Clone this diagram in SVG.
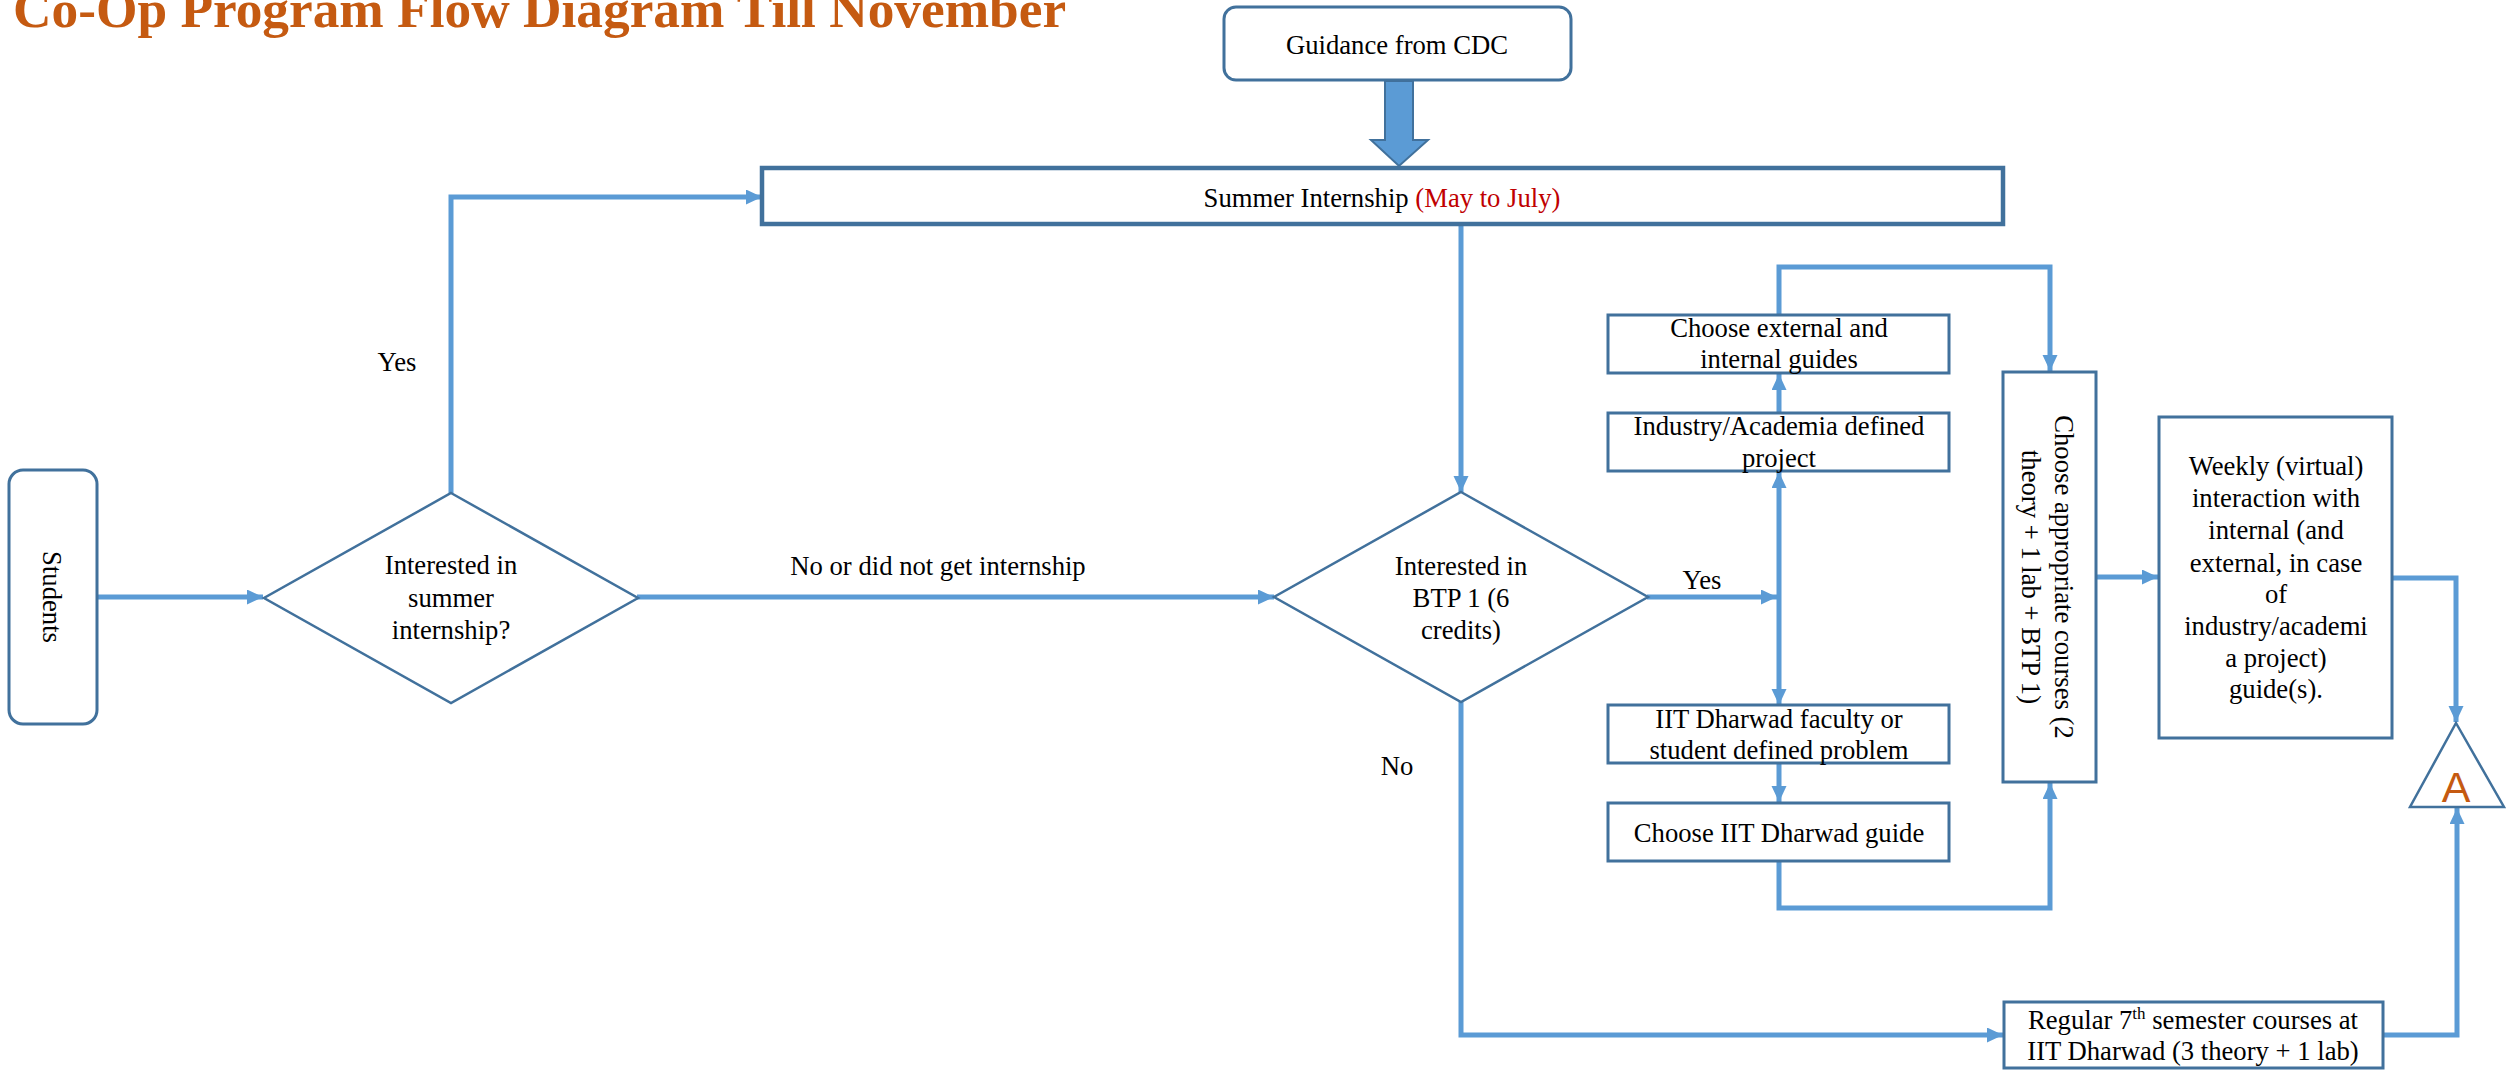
<svg xmlns="http://www.w3.org/2000/svg" width="2509" height="1088" viewBox="0 0 2509 1088">
<style>
.t{font-family:"Liberation Serif","Times New Roman",serif;font-size:26.67px;fill:#000;text-anchor:middle}
.box{fill:#fff;stroke:#41719C;stroke-width:3}
.dia{fill:#fff;stroke:#41719C;stroke-width:2.5}
.c{fill:none;stroke:#5B9BD5;stroke-width:5}
</style>
<defs>
<marker id="ah" markerUnits="userSpaceOnUse" markerWidth="17" markerHeight="16" refX="16" refY="7.5" orient="auto-start-reverse">
<path d="M0,0 L16,7.5 L0,15 z" fill="#5B9BD5"/>
</marker>
</defs>
<rect width="2509" height="1088" fill="#fff"/>
<text x="13" y="27" style="font-family:'Liberation Serif','Times New Roman',serif;font-size:53.33px;font-weight:bold;fill:#C55A11">Co-Op Program Flow Diagram Till November</text>

<g id="connectors">
<polyline class="c" points="97,597 263,597" marker-end="url(#ah)"/>
<polyline class="c" points="451,493 451,197 762,197" marker-end="url(#ah)"/>
<polyline class="c" points="637,597 1274,597" marker-end="url(#ah)"/>
<polyline class="c" points="1461,225 1461,492" marker-end="url(#ah)"/>
<polyline class="c" points="1647,597 1777,597" marker-end="url(#ah)"/>
<polyline class="c" points="1779,472 1779,705" marker-start="url(#ah)" marker-end="url(#ah)"/>
<polyline class="c" points="1779,413 1779,374" marker-end="url(#ah)"/>
<polyline class="c" points="1779,315 1779,267 2050,267 2050,371" marker-end="url(#ah)"/>
<polyline class="c" points="1779,763 1779,802" marker-end="url(#ah)"/>
<polyline class="c" points="1779,861 1779,908 2050,908 2050,783" marker-end="url(#ah)"/>
<polyline class="c" points="2096,577 2158,577" marker-end="url(#ah)"/>
<polyline class="c" points="2392,578 2456,578 2456,722" marker-end="url(#ah)"/>
<polyline class="c" points="1461,702 1461,1035 2003,1035" marker-end="url(#ah)"/>
<polyline class="c" points="2383,1035 2457,1035 2457,808" marker-end="url(#ah)"/>
</g>

<g id="guidance">
<path d="M1385,81 L1385,140 L1371,140 L1399,166 L1428,140 L1413,140 L1413,81 z" fill="#5B9BD5" stroke="#41719C" stroke-width="2"/>
<rect class="box" x="1224" y="7" width="347" height="73" rx="12"/>
<text class="t" x="1397" y="54">Guidance from CDC</text>
</g>

<g id="summer">
<rect x="762" y="168" width="1241" height="56" fill="#fff" stroke="#41719C" stroke-width="4.5"/>
<text class="t" x="1382" y="207">Summer Internship <tspan fill="#C00000">(May to July)</tspan></text>
</g>

<g id="students">
<rect class="box" x="9" y="470" width="88" height="254" rx="14"/>
<text class="t" transform="translate(52,597) rotate(90)" x="0" y="9">Students</text>
</g>

<g id="q1">
<polygon class="dia" points="451,493 638,598 451,703 264,598"/>
<text class="t" x="451" y="574">Interested in</text>
<text class="t" x="451" y="607">summer</text>
<text class="t" x="451" y="639">internship?</text>
</g>

<g id="q2">
<polygon class="dia" points="1461,492 1648,597 1461,702 1274,597"/>
<text class="t" x="1461" y="575">Interested in</text>
<text class="t" x="1461" y="607">BTP 1 (6</text>
<text class="t" x="1461" y="639">credits)</text>
</g>

<text class="t" x="397" y="371">Yes</text>
<text class="t" x="938" y="575">No or did not get internship</text>
<text class="t" x="1702" y="589">Yes</text>
<text class="t" x="1397" y="775">No</text>

<g id="external">
<rect class="box" x="1608" y="315" width="341" height="58"/>
<text class="t" x="1779" y="337">Choose external and</text>
<text class="t" x="1779" y="368">internal guides</text>
</g>

<g id="industry">
<rect class="box" x="1608" y="413" width="341" height="58"/>
<text class="t" x="1779" y="435">Industry/Academia defined</text>
<text class="t" x="1779" y="467">project</text>
</g>

<g id="faculty">
<rect class="box" x="1608" y="705" width="341" height="58"/>
<text class="t" x="1779" y="728">IIT Dharwad faculty or</text>
<text class="t" x="1779" y="759">student defined problem</text>
</g>

<g id="guide">
<rect class="box" x="1608" y="803" width="341" height="58"/>
<text class="t" x="1779" y="842">Choose IIT Dharwad guide</text>
</g>

<g id="courses">
<rect class="box" x="2003" y="372" width="93" height="410"/>
<text class="t" transform="translate(2050,577) rotate(90)" x="0" y="-5">Choose appropriate courses (2</text>
<text class="t" transform="translate(2050,577) rotate(90)" x="0" y="28">theory + 1 lab + BTP 1)</text>
</g>

<g id="weekly">
<rect class="box" x="2159" y="417" width="233" height="321"/>
<text class="t" x="2276" y="475">Weekly (virtual)</text>
<text class="t" x="2276" y="507">interaction with</text>
<text class="t" x="2276" y="539">internal (and</text>
<text class="t" x="2276" y="572">external, in case</text>
<text class="t" x="2276" y="603">of</text>
<text class="t" x="2276" y="635">industry/academi</text>
<text class="t" x="2276" y="667">a project)</text>
<text class="t" x="2276" y="698">guide(s).</text>
</g>

<g id="connectorA">
<polygon points="2456,723 2504,807 2410,807" fill="#fff" stroke="#41719C" stroke-width="2.5"/>
<text x="2456" y="802" style="font-family:'Liberation Sans',Arial,sans-serif;font-size:43px;fill:#C55A11;text-anchor:middle">A</text>
</g>

<g id="regular">
<rect class="box" x="2004" y="1002" width="379" height="66"/>
<text class="t" x="2193" y="1029">Regular 7<tspan font-size="17" dy="-10">th</tspan><tspan dy="10"> semester courses at</tspan></text>
<text class="t" x="2193" y="1060">IIT Dharwad (3 theory + 1 lab)</text>
</g>
</svg>
